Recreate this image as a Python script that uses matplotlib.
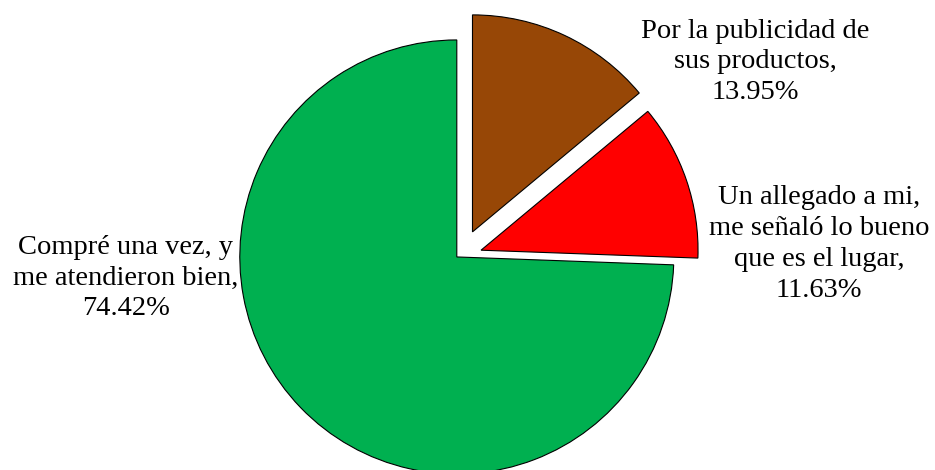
import matplotlib.pyplot as plt

labels = ["Por la publicidad de\nsus productos,\n13.95%",
          "Un allegado a mi,\nme señaló lo bueno\nque es el lugar,\n11.63%",
          "Compré una vez, y\nme atendieron bien,\n74.42%"]
values = [13.95, 11.63, 74.42]
colors = ["#974706", "#FF0000", "#00B050"]
explode = [20, 18, 10]  # pixels, since the pie is drawn in pixel-like data units

plt.rcParams['font.family'] = ['Liberation Serif', 'DejaVu Serif']

fig = plt.figure(figsize=(9.35, 4.7), dpi=100)
ax = fig.add_axes([0, 0, 1, 1])
wedges, _ = ax.pie(values, colors=colors, explode=explode, startangle=90,
                   counterclock=False, center=(464, 220), radius=217,
                   wedgeprops=dict(edgecolor="black", linewidth=0.8))
# the red slice sits a little lower than a pure radial explode would put it
x, y = wedges[1].center
wedges[1].set_center((x, y - 6))

ax.set_xlim(0, 935)
ax.set_ylim(0, 470)
ax.set_aspect("equal")
ax.axis("off")

label_pos = [(755, 408), (819, 226), (126, 192)]
for txt, (x, y) in zip(labels, label_pos):
    ax.text(x, y, txt, ha="center", va="center", fontsize=20.5, linespacing=1.3)

fig.savefig("out.png", dpi=100)
